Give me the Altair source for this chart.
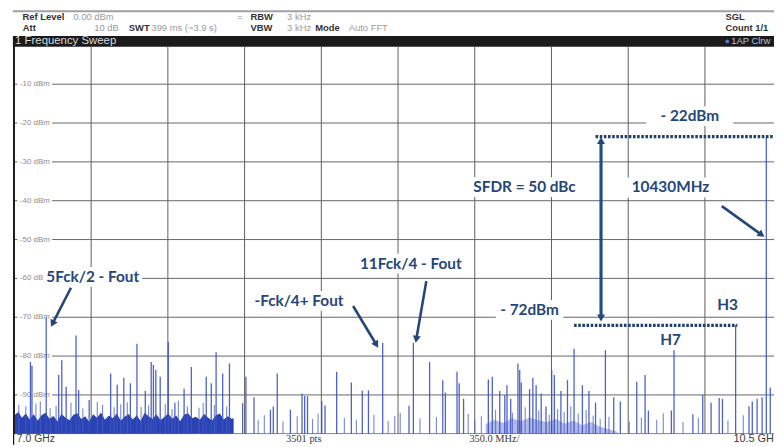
import math
import altair as alt
import pandas as pd

# ---------------- values ----------------
# discrete spurs: frequency (GHz) and peak level (dBm)
spur_ghz = [7.073, 7.080, 7.145, 7.202, 7.216, 7.236, 7.281, 7.293, 7.341, 7.439, 7.469, 7.499, 7.529, 7.559,
            7.597, 7.624, 7.634, 7.645, 7.665, 7.702, 7.732, 7.774, 7.807, 7.875, 7.898, 7.920, 7.950, 7.981,
            8.041, 8.056, 8.093, 8.168, 8.181, 8.199, 8.259, 8.312, 8.324, 8.337, 8.402, 8.417, 8.470, 8.537,
            8.587, 8.615, 8.680, 8.800, 8.820, 8.894, 8.954, 8.966, 9.019, 9.029, 9.049,
            9.162, 9.180, 9.214, 9.237, 9.247, 9.264, 9.297, 9.305, 9.312, 9.350, 9.365, 9.380, 9.403, 9.425,
            9.451, 9.463, 9.493, 9.523, 9.553, 9.591, 9.621, 9.651, 9.696, 9.734, 9.764, 9.839, 9.877, 9.892,
            9.997, 10.009, 10.095, 10.140, 10.178, 10.215, 10.230, 10.290, 10.351, 10.366, 10.388, 10.411,
            10.430, 10.448]
spur_dbm = [-81.5, -82.5, -70.0, -84.9, -81.1, -87.9, -74.7, -88.7, -91.3, -84.5, -87.4, -85.6, -87.0, -76.8,
            -89.0, -81.5, -82.3, -83.6, -85.3, -76.4, -92.0, -88.4, -82.8, -85.3, -87.0, -79.0, -84.5, -81.9,
            -92.1, -85.3, -90.6, -93.8, -93.0, -84.5, -93.8, -89.6, -90.3, -90.3, -91.6, -92.7, -84.0, -86.8,
            -88.9, -88.8, -76.6, -92.8, -76.6, -81.5, -86.2, -89.4, -84.0, -87.0, -91.0,
            -86.0, -85.3, -89.0, -90.0, -87.5, -91.0, -81.9, -83.6, -86.8, -88.5, -85.6, -87.5, -89.6, -93.0,
            -83.6, -84.9, -89.0, -86.2, -78.1, -87.5, -89.0, -92.0, -78.5, -90.6, -91.7, -86.6, -84.9, -94.0,
            -94.0, -78.5, -95.0, -90.0, -92.0, -90.8, -91.0, -72.0, -92.9, -91.7, -91.0, -90.6,
            -23.5, -88.1]

# small spurs rising out of the noise / low grass
small_ghz = [7.020, 7.052, 7.098, 7.118, 7.163, 7.190, 7.258, 7.312, 7.378, 7.402, 7.455, 7.485, 7.515, 7.578,
             7.612, 7.688, 7.719, 7.748, 7.789, 7.842, 7.861, 7.912, 7.968,
             8.112, 8.140, 8.225, 8.290, 8.360, 8.385, 8.505, 8.560, 8.640, 8.705, 8.735, 8.760, 8.850, 8.925,
             9.070, 9.100, 9.130, 9.195, 9.272, 9.330, 9.392, 9.440, 9.478, 9.508, 9.538, 9.572, 9.608, 9.640,
             9.672, 9.712, 9.805, 9.860, 9.930, 9.960, 10.050, 10.120, 10.255, 10.325]
small_dbm = [-92.5, -93.0, -92.2, -91.6, -93.4, -92.8, -92.0, -93.5, -91.8, -92.6, -93.2, -92.4, -91.9, -93.1,
             -92.7, -92.3, -93.6, -91.5, -92.9, -93.3, -92.1, -92.6, -93.0,
             -96.5, -95.2, -96.8, -95.5, -96.2, -94.8, -95.9, -96.4, -95.1, -96.7, -95.4, -94.6, -96.0, -95.7,
             -94.9, -96.3, -95.5, -93.8, -94.6, -93.2, -94.0, -95.1, -93.6, -94.4, -92.9, -94.8, -93.9, -95.3,
             -96.1, -95.6, -96.9, -95.8, -96.4, -94.7, -97.0, -95.9, -96.6, -95.2]

# dense noise floor, 7.0 - 8.0 GHz
noise_ghz = [7.000, 7.018, 7.034, 7.052, 7.070, 7.088, 7.106, 7.124, 7.142, 7.160, 7.178, 7.196, 7.214, 7.232,
             7.251, 7.269, 7.287, 7.305, 7.323, 7.341, 7.359, 7.377, 7.395, 7.413, 7.431, 7.449, 7.467, 7.485,
             7.503, 7.521, 7.540, 7.558, 7.576, 7.594, 7.612, 7.630, 7.648, 7.666, 7.684, 7.702, 7.720, 7.738,
             7.756, 7.774, 7.792, 7.810, 7.828, 7.846, 7.865, 7.883, 7.901, 7.919, 7.937, 7.955, 7.973, 7.991,
             8.000]
noise_dbm = [-95.2, -94.4, -95.9, -94.8, -96.3, -95.0, -96.6, -95.2, -94.6, -96.1, -95.4, -96.8, -94.9, -95.8,
             -96.5, -95.1, -94.7, -96.2, -95.5, -96.9, -95.0, -95.9, -94.5, -96.4, -95.3, -96.0, -94.8, -96.6,
             -95.6, -94.9, -96.3, -95.2, -96.7, -94.6, -95.5, -96.2, -95.0, -96.5, -95.7, -94.8, -96.1, -95.3,
             -96.8, -95.1, -94.7, -96.0, -95.6, -96.4, -94.9, -95.8, -96.6, -95.2, -94.8, -96.3, -95.5, -96.1,
             -96.0]

# low grass around 9.15 - 9.75 GHz
grass_ghz = [9.15, 9.19, 9.23, 9.27, 9.31, 9.35, 9.39, 9.43, 9.47, 9.51, 9.55, 9.59, 9.63, 9.67, 9.71, 9.75]
grass_dbm = [-97.5, -96.4, -97.2, -96.0, -96.8, -95.8, -96.5, -97.0, -96.2, -97.4, -96.6, -97.8, -97.0, -98.2,
             -98.8, -99.5]

grid_ghz = [7.35, 7.70, 8.05, 8.40, 8.75, 9.10, 9.45, 9.80, 10.15]
grid_dbm = [-10, -20, -30, -40, -50, -60, -70, -80, -90]
grid_labels = ["-10 dBm", "-20 dBm", "-30 dBm", "-40 dBm", "-50 dBm", "-60 dBm", "-70 dBm", "-80 dBm", "-90 dBm"]

# annotations (text, centre GHz, centre dBm)
ann_text = ["5Fck/2 - Fout", "-Fck/4+ Fout", "11Fck/4 - Fout", "SFDR = 50 dBc", "10430MHz", "- 22dBm",
            "- 72dBm", "H3", "H7"]
ann_ghz = [7.357, 8.298, 8.808, 9.327, 9.993, 10.081, 9.350, 10.253, 9.993]
ann_dbm = [-59.6, -65.8, -56.2, -36.5, -36.6, -18.2, -68.1, -66.9, -75.8]
ann_halfw_px = [50, 48, 52, 60, 44, 44, 34, 13, 13]

# arrows: start (GHz, dBm) -> tip (GHz, dBm)
arr_x0 = [7.258, 8.545, 8.879, 10.227]
arr_y0 = [-62.4, -67.1, -60.7, -41.4]
arr_x1 = [7.168, 8.658, 8.831, 10.419]
arr_y1 = [-72.3, -77.7, -76.4, -49.2]

sfdr_ghz = 9.676
sfdr_top, sfdr_bottom = -23.8, -70.9
ref_top_dbm, ref_top_from = -23.5, 9.651
ref_low_dbm, ref_low_from, ref_low_to = -72.1, 9.553, 10.298

# ---------------- layout ----------------
W, H = 774, 439
X_MIN, X_MAX = 6.9707, 10.4651
Y_MIN, Y_MAX = -102.82, 9.03
PXG = W / (X_MAX - X_MIN)
PXD = H / (Y_MAX - Y_MIN)
NAVY = "#25467a"
SPUR = "#3b50c2"

XS = alt.Scale(domain=[X_MIN, X_MAX], nice=False, zero=False)
YS = alt.Scale(domain=[Y_MIN, Y_MAX], nice=False, zero=False)


def ex(f="x"):
    return alt.X(f"{f}:Q", scale=XS, axis=None)


def ey(f="y"):
    return alt.Y(f"{f}:Q", scale=YS, axis=None)


def text_layer(rows, **kw):
    df = pd.DataFrame(rows, columns=["t", "x", "y"])
    return alt.Chart(df).mark_text(baseline="middle", **kw).encode(x=ex(), y=ey(), text="t:N")


def hrect(x, x2, y, y2, color):
    df = pd.DataFrame({"x": [x], "x2": [x2], "y": [y], "y2": [y2]})
    return alt.Chart(df).mark_rect(color=color).encode(x=ex(), x2="x2:Q", y=ey(), y2="y2:Q")


layers = []

# header line and black title bar
layers.append(alt.Chart(pd.DataFrame({"x": [6.993], "x2": [X_MAX], "y": [8.75]}))
              .mark_rule(color="#a0a0a0", strokeWidth=2).encode(x=ex(), x2="x2:Q", y=ey()))
layers.append(hrect(6.993, X_MAX, 2.41, -0.39, "#1b1b1b"))

# grid
vg = pd.DataFrame({"x": grid_ghz})
vg["y"] = -100.0
vg["y2"] = -0.39
layers.append(alt.Chart(vg).mark_rule(color="#5e5e5e", strokeWidth=1)
              .encode(x=ex(), y=ey(), y2="y2:Q"))
hg = pd.DataFrame({"y": grid_dbm + [-100]})
hg["x"] = 7.0
hg["x2"] = X_MAX
layers.append(alt.Chart(hg).mark_rule(color="#666666", strokeWidth=1)
              .encode(y=ey(), x=ex(), x2="x2:Q"))

# y labels inside the plot, on a white patch
lab = pd.DataFrame({"y": grid_dbm, "t": grid_labels})
lab["x"] = 7.0 + 5.5 / PXG
lab["xa"] = 7.0 + 3 / PXG
lab["xb"] = 7.0 + 38 / PXG
lab["ya"] = lab["y"] + 4.5 / PXD
lab["yb"] = lab["y"] - 4.5 / PXD
layers.append(alt.Chart(lab).mark_rect(color="white")
              .encode(x=ex("xa"), x2="xb:Q", y=ey("ya"), y2="yb:Q"))
layers.append(alt.Chart(lab).mark_text(align="left", baseline="middle", fontSize=8, color="#8c8c8c",
                                       font="Liberation Sans")
              .encode(x=ex(), y=ey(), text="t:N"))

# annotation white boxes
ann = pd.DataFrame({"t": ann_text, "x": ann_ghz, "y": ann_dbm, "hw": ann_halfw_px})
ann["xa"] = ann["x"] - ann["hw"] / PXG
ann["xb"] = ann["x"] + ann["hw"] / PXG
ann["ya"] = ann["y"] + 10 / PXD
ann["yb"] = ann["y"] - 10 / PXD
layers.append(alt.Chart(ann).mark_rect(color="white")
              .encode(x=ex("xa"), x2="xb:Q", y=ey("ya"), y2="yb:Q"))

# noise floor and grass
nf = pd.DataFrame({"x": noise_ghz, "y": noise_dbm})
nf["y2"] = -100.0
layers.append(alt.Chart(nf).mark_area(color="#2a43b3", interpolate="linear")
              .encode(x=ex(), y=ey(), y2="y2:Q"))
gr = pd.DataFrame({"x": grass_ghz, "y": grass_dbm})
gr["y2"] = -100.0
layers.append(alt.Chart(gr).mark_area(color="#5566cc", opacity=0.45, interpolate="linear")
              .encode(x=ex(), y=ey(), y2="y2:Q"))

# small spurs
sm = pd.DataFrame({"x": small_ghz, "y": small_dbm})
sm["y2"] = -100.0
layers.append(alt.Chart(sm).mark_rule(color="#4a5ec8", strokeWidth=1.1, opacity=0.75)
              .encode(x=ex(), y=ey(), y2="y2:Q"))

# spurs
sp = pd.DataFrame({"x": spur_ghz, "y": spur_dbm})
sp["y2"] = -100.0
layers.append(alt.Chart(sp).mark_rule(color=SPUR, strokeWidth=1.3, opacity=0.9)
              .encode(x=ex(), y=ey(), y2="y2:Q"))

# left plot border
layers.append(alt.Chart(pd.DataFrame({"x": [6.998], "y": [Y_MIN], "y2": [2.41]}))
              .mark_rule(color="#1a1a1a", strokeWidth=2)
              .encode(x=ex(), y=ey(), y2="y2:Q"))

# dotted reference lines
dots = pd.DataFrame({"x": [ref_top_from, ref_low_from], "x2": [X_MAX, ref_low_to],
                     "y": [ref_top_dbm, ref_low_dbm]})
layers.append(alt.Chart(dots).mark_rule(color="#1f3f6e", strokeWidth=3.2, strokeDash=[2.6, 1.6])
              .encode(x=ex(), x2="x2:Q", y=ey()))

# arrows
rows = []
heads = []
for x0, y0, x1, y1 in zip(arr_x0 + [sfdr_ghz, sfdr_ghz], arr_y0 + [sfdr_bottom, sfdr_top],
                          arr_x1 + [sfdr_ghz, sfdr_ghz], arr_y1 + [sfdr_top, sfdr_bottom]):
    dx = (x1 - x0) * PXG
    dy = -(y1 - y0) * PXD
    n = math.hypot(dx, dy)
    ux, uy = dx / n, dy / n
    cx = x1 - ux * 4 / PXG
    cy = y1 + uy * 4 / PXD
    ang = math.degrees(math.atan2(dx, -dy)) % 360
    rows.append({"x": x0, "y": y0, "x2": cx, "y2": cy})
    heads.append({"x": cx, "y": cy, "a": ang})
layers.append(alt.Chart(pd.DataFrame(rows[:4])).mark_rule(color=NAVY, strokeWidth=2.6)
              .encode(x=ex(), y=ey(), x2="x2:Q", y2="y2:Q"))
layers.append(alt.Chart(pd.DataFrame([{"x": sfdr_ghz, "y": heads[4]["y"], "y2": heads[5]["y"]}]))
              .mark_rule(color="#1f4e85", strokeWidth=3.2)
              .encode(x=ex(), y=ey(), y2="y2:Q"))
layers.append(alt.Chart(pd.DataFrame(heads)).mark_point(shape="triangle", filled=True, size=65, opacity=1,
                                                        color=NAVY)
              .encode(x=ex(), y=ey(), angle=alt.Angle("a:Q", scale=None)))

# annotation texts
layers.append(alt.Chart(ann).mark_text(font="Lato", fontWeight="bold", fontSize=15.5, color=NAVY,
                                       baseline="middle", align="center")
              .encode(x=ex(), y=ey(), text="t:N"))

# bottom bar
layers.append(hrect(6.999, X_MAX, -100.15, Y_MIN, "white"))
layers.append(text_layer([["7.0 GHz", 7.011, -101.4]], align="left", fontSize=10.5, color="#3a3a3a",
                         font="Liberation Sans"))
layers.append(text_layer([["3501 pts", 8.320, -101.4], ["350.0 MHz/", 9.190, -101.4]], align="center",
                         fontSize=10.5, color="#3a3a3a", font="Liberation Serif"))
layers.append(text_layer([["10.5 GHz", 10.280, -101.4]], align="left", fontSize=11, color="#3a3a3a",
                         font="Liberation Sans"))

# header texts
R1, R2 = 7.25, 4.35
layers.append(text_layer([["Ref Level", 7.037, R1], ["Att", 7.038, R2], ["SWT", 7.522, R2],
                          ["RBW", 8.077, R1], ["VBW", 8.077, R2], ["Mode", 8.372, R2],
                          ["SGL", 10.244, R1], ["Count 1/1", 10.244, R2]],
                         align="left", fontSize=9.5, fontWeight="bold", color="#333333",
                         font="Liberation Sans"))
layers.append(text_layer([["0.00 dBm", 7.269, R1], ["399 ms (~3.9 s)", 7.625, R2], ["=", 8.016, R1],
                          ["3 kHz", 8.244, R1], ["3 kHz", 8.244, R2], ["Auto FFT", 8.525, R2]],
                         align="left", fontSize=9.5, color="#9a9a9a", font="Liberation Sans"))
layers.append(text_layer([["10 dB", 7.476, R2]], align="right", fontSize=9.5, color="#9a9a9a",
                         font="Liberation Sans"))
layers.append(text_layer([["1 Frequency Sweep", 7.003, 1.0]], align="left", fontSize=11.5,
                         color="#d9d9d9", font="Liberation Sans"))
layers.append(text_layer([["1AP Clrw", 10.270, 1.0]], align="left", fontSize=9.5,
                         color="#b8c4dc", font="Liberation Sans"))
layers.append(alt.Chart(pd.DataFrame({"x": [10.252], "y": [1.0]}))
              .mark_point(shape="circle", filled=True, size=14, color="#5f78c8", opacity=1)
              .encode(x=ex(), y=ey()))

chart = (alt.layer(*layers)
         .properties(width=W, height=H, padding=0, autosize=alt.AutoSizeParams(type="none"),
                     background="white")
         .configure_view(stroke=None))

chart.save("out.html", embed_options={"renderer": "svg", "actions": False})
